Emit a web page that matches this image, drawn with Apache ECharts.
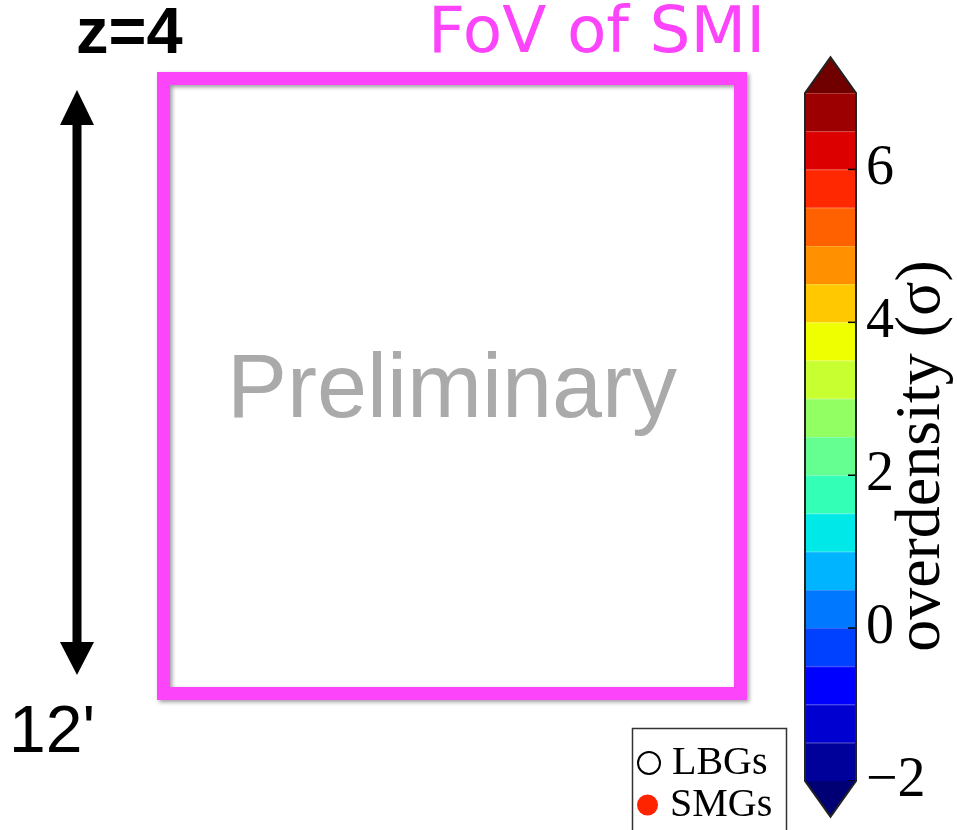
<!DOCTYPE html>
<html>
<head>
<meta charset="utf-8">
<script src="https://cdn.jsdelivr.net/npm/echarts@6/dist/echarts.min.js"></script>
<style>
  html, body { margin: 0; padding: 0; background: #fff; }
  #chart { width: 957px; height: 830px; }
</style>
</head>
<body>
<div id="chart"></div>
<script>
// ---- data ----
const binEdges = [-2, -1.5, -1, -0.5, 0, 0.5, 1, 1.5, 2, 2.5, 3, 3.5, 4, 4.5, 5, 5.5, 6, 6.5, 7];
const binColors = ['#00009a', '#0000d0', '#0000ff', '#0040ff', '#0078ff', '#00b4ff', '#00e8e8',
                   '#34ffb6', '#64ff90', '#92ff62', '#c8ff30', '#f0ff00', '#ffc800', '#ff9000',
                   '#ff6000', '#ff2800', '#dc0000', '#9c0000'];
const extendColors = ['#000074', '#700000']; // below min, above max
const tickValues = [-2, 0, 2, 4, 6];
const legendNames = ['LBGs', 'SMGs'];
const titleText = 'z=4';
const fovText = 'FoV of SMI';
const watermarkText = 'Preliminary';
const scaleText = "12'";
const colorbarLabel = 'overdensity (\u03c3)';

const bins = binEdges.slice(0, -1).map((e, i) => ({ value: [0, e, binEdges[i + 1]] }));
const cbRange = [binEdges[0], binEdges[binEdges.length - 1]];

const chart = echarts.init(document.getElementById('chart'), null, { renderer: 'canvas' });
const magenta = '#fc45fb';
const legendText = { fontFamily: 'Liberation Serif', fontSize: 40, color: '#000', lineHeight: 40, padding: [0, 0, 0, 7] };

const option = {
  animation: false,
  backgroundColor: '#fff',
  grid: { left: 805, top: 93, width: 51, height: 688, outerBoundsMode: 'none', containLabel: false },
  xAxis: { type: 'value', min: 0, max: 1, show: false },
  yAxis: {
    type: 'value', min: cbRange[0], max: cbRange[1], interval: 2, position: 'right',
    axisLine: { show: false },
    splitLine: { show: false },
    axisTick: { show: false },
    axisLabel: {
      showMaxLabel: false, margin: 10, color: '#000',
      fontFamily: 'Liberation Serif', fontSize: 56,
      formatter: v => String(v).replace('-', '\u2212')
    }
  },
  legend: [
    { data: [legendNames[0]], left: 637, top: 743, padding: 0, itemWidth: 22, itemHeight: 22, icon: 'circle',
      textStyle: legendText },
    { data: [legendNames[1]], left: 637, top: 785, padding: 0, itemWidth: 21, itemHeight: 21, icon: 'circle',
      textStyle: legendText }
  ],
  series: [
    {
      type: 'custom', name: 'bins', clip: false, data: bins, silent: true,
      encode: { x: 0, y: [1, 2] },
      renderItem: (params, api) => {
        const lo = api.value(1), hi = api.value(2);
        const p1 = api.coord([0, hi]);
        const p2 = api.coord([1, lo]);
        return {
          type: 'group',
          children: [
            { type: 'rect', shape: { x: p1[0], y: p1[1], width: p2[0] - p1[0], height: p2[1] - p1[1] },
              style: { fill: binColors[params.dataIndex] } },
            { type: 'line', shape: { x1: p1[0], y1: p1[1] + 0.5, x2: p2[0], y2: p1[1] + 0.5 },
              style: { stroke: 'rgba(255,255,255,0.22)', lineWidth: 1 } }
          ]
        };
      }
    },
    {
      type: 'custom', name: 'ticks', clip: false, data: tickValues.map(v => [1, v]), silent: true, z: 4,
      encode: { x: 0, y: 1 },
      renderItem: (params, api) => {
        const p = api.coord([api.value(0), api.value(1)]);
        return { type: 'line', shape: { x1: p[0] - 8, y1: p[1], x2: p[0], y2: p[1] },
                 style: { stroke: '#000', lineWidth: 1.5 } };
      }
    },
    {
      type: 'custom', name: 'frame', clip: false, data: [[0, cbRange[0], cbRange[1]]], silent: true, z: 5,
      encode: { x: 0, y: [1, 2] },
      renderItem: (params, api) => {
        const tl = api.coord([0, api.value(2)]);
        const br = api.coord([1, api.value(1)]);
        const w = br[0] - tl[0];
        const mx = (tl[0] + br[0]) / 2;
        const th = w * 0.7;
        return {
          type: 'group',
          children: [
            { type: 'polygon', shape: { points: [[tl[0], tl[1]], [mx, tl[1] - th], [br[0], tl[1]]] },
              style: { fill: extendColors[1] } },
            { type: 'polygon', shape: { points: [[tl[0], br[1]], [mx, br[1] + th], [br[0], br[1]]] },
              style: { fill: extendColors[0] } },
            { type: 'polygon', shape: { points: [[tl[0], tl[1]], [mx, tl[1] - th], [br[0], tl[1]], [br[0], br[1]], [mx, br[1] + th], [tl[0], br[1]]] },
              style: { fill: 'none', stroke: '#222', lineWidth: 2 } }
          ]
        };
      }
    },
    { type: 'scatter', name: legendNames[0], data: [], symbol: 'circle',
      itemStyle: { color: '#fff', borderColor: '#000', borderWidth: 1.3, opacity: 1 } },
    { type: 'scatter', name: legendNames[1], data: [], symbol: 'circle',
      itemStyle: { color: '#ff2400', opacity: 1 } }
  ],
  graphic: [
    { type: 'rect', shape: { x: 163.5, y: 78.5, width: 577, height: 615 },
      style: { fill: 'none', stroke: magenta, lineWidth: 13,
               shadowColor: 'rgba(0,0,0,0.4)', shadowBlur: 4, shadowOffsetX: 2, shadowOffsetY: 2 } },
    // legend frame
    { type: 'rect', z: -1, shape: { x: 632.5, y: 728.5, width: 154, height: 120 },
      style: { fill: '#fff', stroke: '#333', lineWidth: 1.5 } },
    { type: 'text', x: 76, y: 35,
      style: { text: titleText, fill: '#000', font: 'bold 65px "Liberation Sans"', align: 'left', verticalAlign: 'middle' } },
    { type: 'text', x: 428, y: 35,
      style: { text: fovText, fill: magenta, font: '64.5px "DejaVu Sans"', align: 'left', verticalAlign: 'middle' } },
    { type: 'text', x: 227, y: 392,
      style: { text: watermarkText, fill: '#aaaaaa', font: '90px "Liberation Sans"', align: 'left', verticalAlign: 'middle' } },
    { type: 'text', x: 9, y: 734,
      style: { text: scaleText, fill: '#000', font: '66px "Liberation Sans"', align: 'left', verticalAlign: 'middle' } },
    { type: 'text', x: 922.5, y: 456, rotation: Math.PI / 2,
      style: { text: colorbarLabel, fill: '#000', font: '64px "Liberation Serif"', align: 'center', verticalAlign: 'middle' } },
    // double-headed scale arrow
    { type: 'rect', shape: { x: 72.5, y: 115, width: 9, height: 540 }, style: { fill: '#000' } },
    { type: 'polygon', shape: { points: [[77, 90], [60, 125], [94, 125]] }, style: { fill: '#000' } },
    { type: 'polygon', shape: { points: [[77, 675], [60, 642], [94, 642]] }, style: { fill: '#000' } }
  ]
};
chart.setOption(option);
</script>
</body>
</html>
